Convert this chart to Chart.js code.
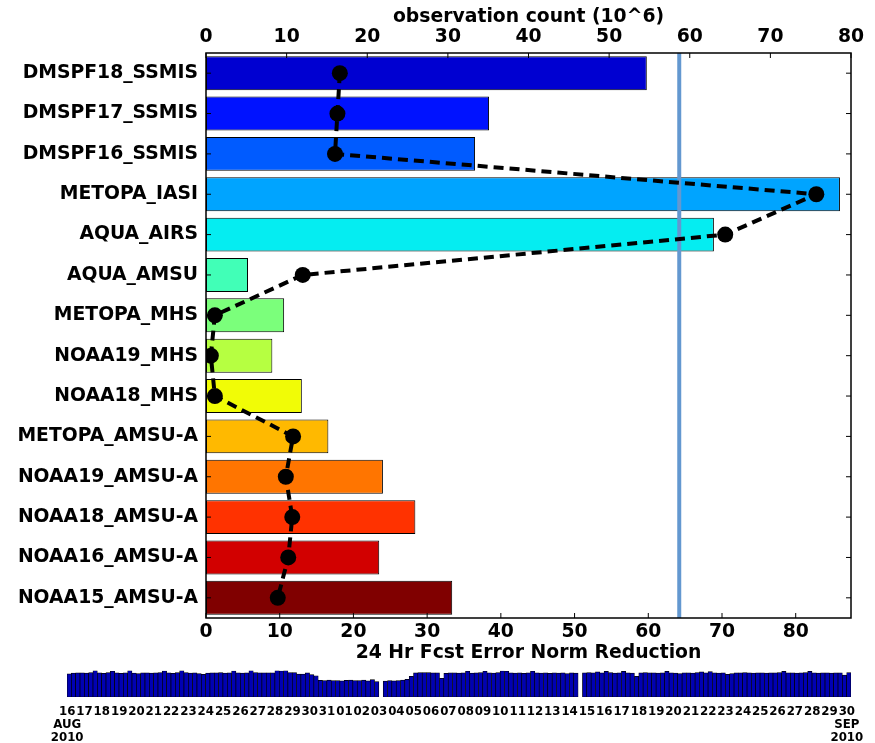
<!DOCTYPE html>
<html><head><meta charset="utf-8">
<script src="https://cdn.jsdelivr.net/npm/chart.js@4.4.0/dist/chart.umd.min.js"></script>
<style>
html,body{margin:0;padding:0;background:#fff;}
#main{position:absolute;left:0;top:0;}
#tl{position:absolute;left:0;top:665px;}
</style></head><body>
<canvas id="main" width="875" height="665"></canvas>
<canvas id="tl" width="875" height="78"></canvas>
<script>
// ---- data ----
const categories = ['DMSPF18_SSMIS','DMSPF17_SSMIS','DMSPF16_SSMIS','METOPA_IASI','AQUA_AIRS','AQUA_AMSU',
  'METOPA_MHS','NOAA19_MHS','NOAA18_MHS','METOPA_AMSU-A','NOAA19_AMSU-A','NOAA18_AMSU-A','NOAA16_AMSU-A','NOAA15_AMSU-A'];
const errorNormReduction = [59.8, 38.4, 36.5, 86.0, 68.9, 5.7, 10.6, 9.0, 13.0, 16.6, 24.0, 28.4, 23.5, 33.4];
const observationCount = [16.6, 16.3, 16.0, 75.7, 64.4, 12.0, 1.1, 0.6, 1.1, 10.8, 9.9, 10.7, 10.2, 8.9];
const referenceLine = 64.2;
const barColors = ['#0000D1','#0012FF','#005BFF','#00A4FF','#05EDF1','#41FFB7','#7BFF7B',
  '#B6FF41','#F1FC06','#FFB900','#FF7500','#FF3200','#D20000','#800000'];

const days = ['16','17','18','19','20','21','22','23','24','25','26','27','28','29','30','31',
  '01','02','03','04','05','06','07','08','09','10','11','12','13','14','15','16','17','18','19','20',
  '21','22','23','24','25','26','27','28','29','30'];
const cycles = ['00','06','12','18'];
const startMonth = ['AUG','2010'];
const endMonth = ['SEP','2010'];
const cycleCounts = [
  96,99,100,100,99,101,109,100,98,101,107,100,98,100,109,99,97,100,100,99,
  100,101,108,100,98,101,109,101,99,100,97,94,99,100,100,101,99,100,108,100,
  99,100,109,101,100,100,100,100,109,108,109,101,101,95,95,100,93,88,69,68,
  70,68,68,67,69,70,68,68,70,67,72,64,null,66,68,67,68,70,73,86,
  100,101,101,101,100,100,77,98,100,100,99,100,107,99,100,101,107,100,99,101,
  108,107,100,99,100,98,100,107,100,99,100,98,100,99,100,97,100,99,null,100,
  101,100,104,100,106,101,99,100,106,100,99,86,100,101,100,100,99,100,106,100,
  99,97,100,100,99,101,104,100,105,100,99,100,94,97,100,100,101,100,99,100,
  100,99,100,100,101,106,100,100,99,100,101,106,100,99,100,100,99,100,100,91,
  101];

// ---- build cycle category list from days/cycles ----
const cycleLabels = [];
days.forEach((d, k) => {
  const cs = (k === days.length - 1) ? cycles.slice(0, 1) : cycles;
  cs.forEach(c => cycleLabels.push(d + ' ' + c + 'Z'));
});

Chart.defaults.font.family = "'DejaVu Sans', sans-serif";
Chart.defaults.font.weight = 'bold';
Chart.defaults.color = '#000';
Chart.defaults.animation = false;

const boldFont = {family: "'DejaVu Sans', sans-serif", weight: 'bold', size: 18.8};

const frameTicks = {
  id: 'frameTicks',
  afterDatasetDraw(chart, args) {
    if (args.index !== 0) return;
    const {ctx, chartArea: a, scales} = chart;
    const px = scales.x.getPixelForValue(referenceLine);
    ctx.save();
    ctx.strokeStyle = '#6398D0';
    ctx.lineWidth = 4;
    ctx.beginPath(); ctx.moveTo(px, a.top); ctx.lineTo(px, a.bottom); ctx.stroke();
    ctx.restore();
  },
  afterDraw(chart) {
    const {ctx, chartArea: a, scales} = chart;
    const L = 5;
    ctx.save();
    ctx.strokeStyle = '#000';
    ctx.lineWidth = 1;
    const seg = (x1, y1, x2, y2) => { ctx.beginPath(); ctx.moveTo(x1, y1); ctx.lineTo(x2, y2); ctx.stroke(); };
    scales.x.ticks.forEach(t => { const p = scales.x.getPixelForValue(t.value); seg(p, a.bottom, p, a.bottom - L); });
    scales.x2.ticks.forEach(t => { const p = scales.x2.getPixelForValue(t.value); seg(p, a.top, p, a.top + L); });
    scales.y.ticks.forEach((t, i) => { const p = scales.y.getPixelForTick(i); seg(a.left, p, a.left + L, p); seg(a.right, p, a.right - L, p); });
    ctx.lineWidth = 1.5;
    ctx.strokeRect(a.left, a.top, a.right - a.left, a.bottom - a.top);
    ctx.restore();
  }
};

new Chart(document.getElementById('main'), {
  type: 'bar',
  data: {
    labels: categories,
    datasets: [
      {
        type: 'bar',
        data: errorNormReduction,
        xAxisID: 'x',
        backgroundColor: barColors,
        borderColor: '#000',
        borderWidth: 1,
        borderSkipped: false,
        barPercentage: 0.84,
        categoryPercentage: 1.0,
        order: 2
      },
      {
        type: 'line',
        data: observationCount,
        xAxisID: 'x2',
        borderColor: '#000',
        borderWidth: 4,
        borderDash: [10, 6],
        pointRadius: 8,
        pointHoverRadius: 8,
        pointBackgroundColor: '#000',
        pointBorderColor: '#000',
        pointBorderWidth: 0,
        fill: false,
        tension: 0,
        order: 1
      }
    ]
  },
  options: {
    indexAxis: 'y',
    responsive: false,
    animation: false,
    layout: {padding: {left: 0, right: 24, top: 0, bottom: 0}},
    plugins: {legend: {display: false}, tooltip: {enabled: false}},
    scales: {
      x: {
        position: 'bottom', min: 0, max: 87.5,
        grid: {display: false, drawTicks: false}, border: {display: false},
        ticks: {stepSize: 10, includeBounds: false, font: boldFont, padding: 3, maxRotation: 0},
        title: {display: true, text: '24 Hr Fcst Error Norm Reduction', font: boldFont, padding: {top: 0, bottom: 1}},
        afterFit: s => { s.height = 47; }
      },
      x2: {
        position: 'top', min: 0, max: 80,
        grid: {display: false, drawTicks: false}, border: {display: false},
        ticks: {stepSize: 10, includeBounds: false, font: boldFont, padding: 5, maxRotation: 0},
        title: {display: true, text: 'observation count (10^6)', font: boldFont, padding: {top: 6, bottom: 0}},
        afterFit: s => { s.height = 53; }
      },
      y: {
        position: 'left',
        grid: {display: false, drawTicks: false}, border: {display: false},
        ticks: {font: boldFont, padding: 8, autoSkip: false},
        afterFit: s => { s.width = 206; }
      }
    }
  },
  plugins: [frameTicks]
});

const smallFont = {family: "'DejaVu Sans', sans-serif", weight: 'bold', size: 11.8, lineHeight: 1.1};

new Chart(document.getElementById('tl'), {
  type: 'bar',
  data: {
    labels: cycleLabels,
    datasets: [{
      data: cycleCounts,
      backgroundColor: '#0000B4',
      borderColor: '#000',
      borderWidth: 0.7,
      borderSkipped: false,
      barPercentage: 1.0,
      categoryPercentage: 1.0
    }]
  },
  options: {
    responsive: false,
    animation: false,
    layout: {padding: {left: 67, right: 24, top: 5, bottom: 0}},
    plugins: {legend: {display: false}, tooltip: {enabled: false}},
    scales: {
      x: {
        grid: {display: false, drawTicks: false}, border: {display: false},
        ticks: {
          autoSkip: false, maxRotation: 0, minRotation: 0, padding: 8, labelOffset: -2,
          font: smallFont,
          callback: (v, i) => {
            if (i % 4 !== 0) return '';
            const k = i / 4;
            if (k === 0) return [days[k]].concat(startMonth);
            if (k === days.length - 1) return [days[k]].concat(endMonth);
            return days[k];
          }
        },
        afterFit: s => { s.height = 46; }
      },
      y: {display: false, min: 0, max: 112}
    }
  }
});
</script>
</body></html>
